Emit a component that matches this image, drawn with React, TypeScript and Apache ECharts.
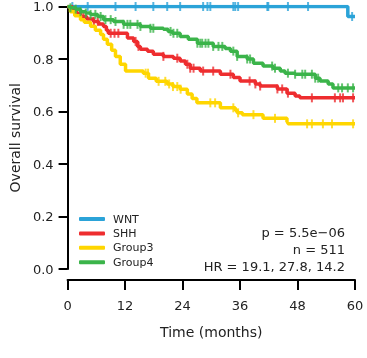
import React, { useEffect, useRef } from "react";
import * as echarts from "echarts";

const groups = ["WNT", "SHH", "Group3", "Group4"];
const colors = ["#2ba3d8", "#ee2d2f", "#ffd600", "#3bb44a"];

// Kaplan-Meier step points (months, survival)
const timeWNT = [0, 58.5];
const survWNT = [1, 0.962];
const censorWNT = [1, 4.2, 10, 14.2, 17.9, 20.8, 23.5, 28.3, 29.2, 29.8, 34.6, 35, 35.6, 41.7, 41.9, 46, 50.2, 59.4];

const timeSHH = [0, 1.0, 1.9, 2.7, 4.0, 5.4, 6.5, 7.5, 8.1, 8.5, 12.5, 13.8, 14.6, 15.2, 16.7, 17.9, 20.0, 22.1, 23.5, 24.6, 25.6, 27.7, 31.9, 34.6, 36.0, 39.2, 40.2, 43.8, 45.8, 47.5, 48.5];
const survSHH = [1, 0.985, 0.972, 0.962, 0.952, 0.943, 0.933, 0.924, 0.91, 0.898, 0.88, 0.867, 0.848, 0.837, 0.83, 0.818, 0.81, 0.803, 0.792, 0.78, 0.765, 0.754, 0.742, 0.73, 0.716, 0.705, 0.697, 0.686, 0.67, 0.659, 0.652];
const censorSHH = [1.5, 3.3, 5.5, 6.3, 9, 9.8, 10.6, 14.2, 14.8, 20, 22.9, 25, 25.6, 26.3, 28.3, 30.4, 34, 38, 39.2, 40.2, 43.8, 44.8, 46, 51, 55.8, 56.9, 57.5, 59.6];

const timeG3 = [0, 0.6, 1.5, 2.7, 3.5, 4.8, 5.8, 6.9, 7.5, 8.3, 9.2, 10.0, 11.0, 12.1, 15.8, 16.9, 18.5, 20.8, 22.0, 23.5, 25.0, 26.0, 27.0, 31.9, 35.0, 35.4, 36.5, 40.8, 45.8, 46.0];
const survG3 = [1, 0.98, 0.965, 0.95, 0.94, 0.925, 0.91, 0.893, 0.875, 0.856, 0.833, 0.81, 0.78, 0.754, 0.746, 0.727, 0.715, 0.705, 0.695, 0.685, 0.667, 0.65, 0.633, 0.614, 0.605, 0.595, 0.588, 0.574, 0.56, 0.553];
const censorG3 = [16.3, 16.8, 19, 20.4, 21.2, 22, 22.9, 23.6, 29.8, 30.8, 34.6, 35.6, 38.8, 43.3, 50, 51, 53.3, 55.2, 59.6];

const timeG4 = [0, 0.6, 1.7, 2.7, 3.8, 4.8, 6.3, 7.5, 9.6, 11.7, 15.2, 17.3, 20.0, 21.0, 21.9, 23.5, 25.2, 27.1, 30.4, 32.9, 34.0, 35.4, 37.5, 38.8, 40.8, 42.9, 44.4, 45.4, 47.5, 51.7, 52.7, 54.4, 55.4];
const survG4 = [1, 0.995, 0.99, 0.98, 0.975, 0.97, 0.962, 0.95, 0.943, 0.932, 0.924, 0.917, 0.913, 0.905, 0.898, 0.886, 0.875, 0.86, 0.848, 0.84, 0.83, 0.81, 0.8, 0.784, 0.773, 0.765, 0.754, 0.746, 0.742, 0.727, 0.716, 0.705, 0.69];
const censorG4 = [0.6, 1.7, 2.7, 3.8, 4.8, 5.8, 6.9, 7.9, 9, 10, 11.7, 12.5, 13.1, 14.6, 15.2, 17.3, 17.9, 21.5, 22.1, 22.9, 27.1, 27.7, 28.1, 28.8, 29.4, 30.4, 31.5, 32.3, 34.6, 35.4, 37.5, 38.1, 42.7, 43.3, 46, 47.5, 49, 49.6, 51, 51.7, 52.3, 56.5, 57.3, 58.5, 59.6];

const times = [timeWNT, timeSHH, timeG3, timeG4];
const survs = [survWNT, survSHH, survG3, survG4];
const censors = [censorWNT, censorSHH, censorG3, censorG4];

const xTicks = [0, 12, 24, 36, 48, 60];
const statTexts = ["p = 5.5e\u221206", "n = 511", "HR = 19.1, 27.8, 14.2"];

const FONT = "DejaVu Sans";

function stepAt(t: number[], s: number[], x: number): number {
  let v = s[0];
  for (let i = 0; i < t.length; i++) {
    if (t[i] <= x) v = s[i];
  }
  return v;
}

export default function App() {
  const ref = useRef<HTMLDivElement>(null);
  useEffect(() => {
    if (!ref.current) return;
    const chart = echarts.init(ref.current, null, { renderer: "svg" });
    const xMax = xTicks[xTicks.length - 1];
    const lineSeries = groups.map((g, i) => {
      const data = times[i].map((t, j) => [t, survs[i][j]]);
      data.push([xMax, survs[i][survs[i].length - 1]]);
      return {
        name: g,
        type: "line",
        step: "end",
        showSymbol: false,
        symbol: "none",
        data,
        lineStyle: { color: colors[i], width: 3.5 },
        itemStyle: { color: colors[i] },
        z: 2 + i,
      };
    });
    const censorSeries = groups.map((g, i) => ({
      name: g + " censored",
      type: "scatter",
      symbol: "rect",
      symbolSize: [2, 9],
      data: censors[i].map((c) => [c, stepAt(times[i], survs[i], c)]),
      itemStyle: { color: colors[i] },
      silent: true,
      z: 2 + i,
    }));
    chart.setOption({
      animation: false,
      grid: { left: 67, right: 12, top: 5, bottom: 89 },
      legend: {
        data: groups.map((g, i) => ({ name: g, itemStyle: { color: colors[i] } })),
        orient: "vertical",
        left: 79,
        top: 212,
        icon: "roundRect",
        itemWidth: 26,
        itemHeight: 4,
        itemGap: 0.4,
        padding: 0,
        textStyle: { fontFamily: FONT, fontSize: 11, color: "#222", lineHeight: 14, padding: [0, 0, 0, 3] },
        selectedMode: false,
      },
      xAxis: {
        type: "value",
        min: 0,
        max: xMax,
        interval: 12,
        offset: 11,
        name: "Time (months)",
        nameLocation: "middle",
        nameGap: 45,
        nameTextStyle: { fontFamily: FONT, fontSize: 14, color: "#222" },
        axisLine: { show: true, onZero: false, lineStyle: { color: "#000", width: 2 } },
        axisTick: { show: true, length: 10, lineStyle: { color: "#000", width: 2 } },
        axisLabel: { fontFamily: FONT, fontSize: 13, color: "#222", margin: 19 },
        splitLine: { show: false },
      },
      yAxis: {
        type: "value",
        min: 0,
        max: 1,
        interval: 0.2,
        name: "Overall survival",
        nameLocation: "middle",
        nameGap: 38,
        nameTextStyle: { fontFamily: FONT, fontSize: 14, color: "#222" },
        axisLine: { show: true, onZero: false, lineStyle: { color: "#000", width: 2 } },
        axisTick: { show: true, length: 9, lineStyle: { color: "#000", width: 2 } },
        axisLabel: {
          fontFamily: FONT,
          fontSize: 13,
          color: "#222",
          margin: 14,
          formatter: (v: number) => v.toFixed(1),
        },
        splitLine: { show: false },
      },
      graphic: statTexts.map((t, i) => ({
        type: "text",
        x: 345,
        y: 232 + i * 17.3,
        style: {
          text: t,
          fontFamily: FONT,
          fontSize: 13,
          fill: "#222",
          textAlign: "right",
          textVerticalAlign: "middle",
        },
      })),
      series: [...lineSeries, ...censorSeries],
    });
    return () => chart.dispose();
  }, []);
  return (
    <div
      ref={ref}
      style={{ position: "fixed", left: 0, top: 0, width: 367, height: 358 }}
    />
  );
}
